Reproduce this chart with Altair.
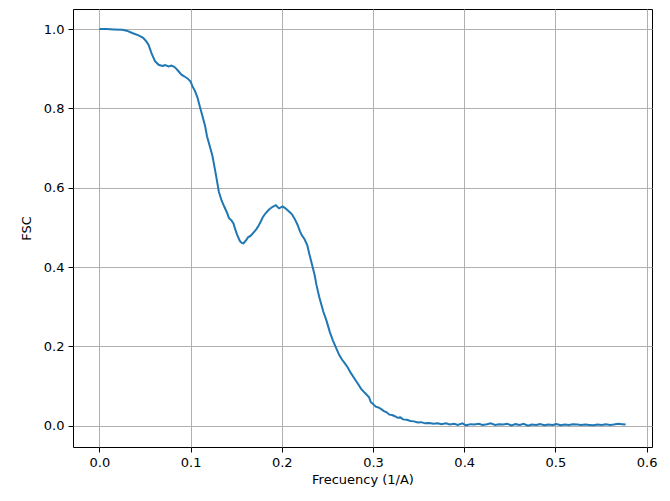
import altair as alt
import pandas as pd

freq = [0.000, 0.008, 0.016, 0.025, 0.030, 0.036, 0.043, 0.048, 0.051, 0.054,
        0.057, 0.061, 0.065, 0.069, 0.072, 0.076, 0.079, 0.082, 0.084, 0.087,
        0.090, 0.093, 0.097, 0.100, 0.102, 0.105, 0.1075, 0.110, 0.113, 0.116,
        0.118, 0.121, 0.124, 0.126, 0.128, 0.131, 0.134, 0.137, 0.140, 0.142,
        0.145, 0.147, 0.149, 0.151, 0.154, 0.156, 0.158, 0.161, 0.163, 0.166,
        0.169, 0.172, 0.174, 0.177, 0.179, 0.182, 0.186, 0.190, 0.1935, 0.197,
        0.201, 0.204, 0.207, 0.210, 0.2115, 0.214, 0.217, 0.220, 0.222, 0.225,
        0.228, 0.230, 0.233, 0.236, 0.238, 0.241, 0.2455, 0.249, 0.2527, 0.256,
        0.260, 0.263, 0.266, 0.269, 0.272, 0.276, 0.280, 0.284, 0.287, 0.291,
        0.2957, 0.2975, 0.300, 0.303, 0.306, 0.309, 0.312, 0.315, 0.318, 0.321,
        0.324, 0.327, 0.330, 0.333, 0.337, 0.341, 0.345, 0.349, 0.353, 0.357,
        0.362, 0.366, 0.371, 0.375, 0.380, 0.384, 0.389, 0.393, 0.398, 0.402,
        0.407, 0.411, 0.416, 0.420, 0.425, 0.429, 0.434, 0.438, 0.443, 0.447,
        0.452, 0.456, 0.461, 0.465, 0.470, 0.474, 0.479, 0.483, 0.488, 0.492,
        0.497, 0.501, 0.506, 0.510, 0.515, 0.519, 0.524, 0.528, 0.533, 0.537,
        0.542, 0.546, 0.551, 0.555, 0.560, 0.564, 0.569, 0.573, 0.577]

fsc = [1.000, 1.000, 0.999, 0.998, 0.996, 0.990, 0.984, 0.978, 0.970, 0.960,
       0.940, 0.919, 0.910, 0.907, 0.909, 0.906, 0.908, 0.905, 0.901, 0.893,
       0.885, 0.881, 0.875, 0.868, 0.856, 0.843, 0.828, 0.806, 0.781, 0.755,
       0.730, 0.705, 0.680, 0.655, 0.630, 0.590, 0.568, 0.552, 0.537, 0.524,
       0.517, 0.510, 0.495, 0.482, 0.466, 0.461, 0.460, 0.468, 0.475, 0.479,
       0.487, 0.495, 0.502, 0.515, 0.525, 0.535, 0.545, 0.552, 0.556, 0.548,
       0.553, 0.548, 0.542, 0.536, 0.532, 0.522, 0.508, 0.490, 0.480, 0.470,
       0.455, 0.435, 0.408, 0.380, 0.355, 0.325, 0.288, 0.265, 0.236, 0.215,
       0.194, 0.178, 0.167, 0.158, 0.148, 0.132, 0.118, 0.104, 0.093, 0.083,
       0.072, 0.060, 0.055, 0.048, 0.046, 0.042, 0.037, 0.034, 0.028, 0.027,
       0.024, 0.020, 0.021, 0.016, 0.015, 0.012, 0.011, 0.008, 0.009, 0.006,
       0.007, 0.005, 0.006, 0.004, 0.006, 0.003, 0.005, 0.002, 0.006, 0.001,
       0.004, 0.003, 0.005, 0.002, 0.004, 0.006, 0.002, 0.004, 0.003, 0.005,
       0.001, 0.004, 0.002, 0.005, 0.000, 0.003, 0.002, 0.004, 0.001, 0.003,
       0.002, 0.004, 0.001, 0.003, 0.002, 0.004, 0.003, 0.002, 0.003, 0.002,
       0.001, 0.003, 0.002, 0.004, 0.002, 0.003, 0.005, 0.004, 0.003]

x_ticks = [0.0, 0.1, 0.2, 0.3, 0.4, 0.5, 0.6]
y_ticks = [0.0, 0.2, 0.4, 0.6, 0.8, 1.0]

df = pd.DataFrame({"freq": freq, "fsc": fsc})

chart = alt.Chart(df).mark_line(color="#1f77b4", strokeWidth=2, clip=True).encode(
    x=alt.X("freq:Q", title="Frecuency (1/A)",
            scale=alt.Scale(domain=[-0.0289, 0.6059], nice=False, zero=False),
            axis=alt.Axis(values=x_ticks, format=".1f", titlePadding=4)),
    y=alt.Y("fsc:Q", title="FSC",
            scale=alt.Scale(domain=[-0.0536, 1.0506], nice=False, zero=False),
            axis=alt.Axis(values=y_ticks, format=".1f", titlePadding=10)),
).properties(
    width=579, height=438,
    background="white",
    autosize=alt.AutoSizeParams(type="none"),
    padding={"left": 65, "top": 1, "right": 10, "bottom": 40},
).configure_view(
    stroke="black", strokeWidth=1
).configure_axis(
    domain=False,
    grid=True, gridColor="#b0b0b0", gridWidth=1,
    tickColor="black", tickSize=5, tickWidth=1,
    labelColor="black", labelFont="DejaVu Sans", labelFontSize=13, labelPadding=4,
    titleColor="black", titleFont="DejaVu Sans", titleFontSize=13, titleFontWeight="normal",
)

chart.save("out.html", embed_options={"renderer": "svg", "actions": False})
